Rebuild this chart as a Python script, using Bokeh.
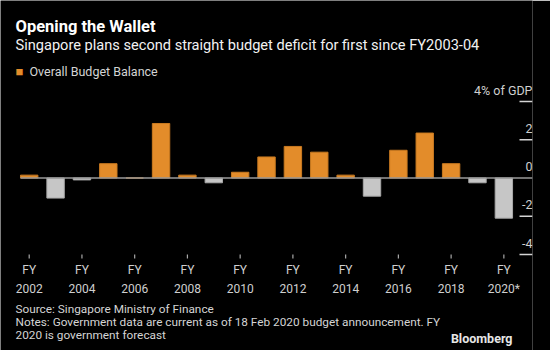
from bokeh.plotting import figure
from bokeh.models import Label, ColumnDataSource, Range1d
from bokeh.embed import file_html
from bokeh.resources import INLINE
from bokeh.core.properties import value

# ---- data ----
years = list(range(2002, 2021))
balance = [0.15, -1.05, -0.1, 0.75, 0.0, 2.85, 0.15, -0.25, 0.3, 1.1,
           1.65, 1.35, 0.15, -0.95, 1.45, 2.35, 0.75, -0.25, -2.1]
x_tick_years = [2002, 2004, 2006, 2008, 2010, 2012, 2014, 2016, 2018, 2020]
x_tick_labels = ["FY\n2002", "FY\n2004", "FY\n2006", "FY\n2008", "FY\n2010",
                 "FY\n2012", "FY\n2014", "FY\n2016", "FY\n2018", "FY\n2020*"]
y_ticks = [-4, -2, 2, 4]
y_label_values = [-4, -2, 0, 2, 4]
y_tick_labels = ["-4", "-2", "0", "2", "4% of GDP"]

title = "Opening the Wallet"
subtitle = "Singapore plans second straight budget deficit for first since FY2003-04"
legend_label = "Overall Budget Balance"
footer = ["Source: Singapore Ministry of Finance",
          "Notes: Government data are current as of 18 Feb 2020 budget announcement. FY",
          "2020 is government forecast"]
brand = "Bloomberg"

# ---- style ----
ORANGE = "#e38c2a"
ORANGE_EDGE = "#c97a20"
GREY = "#c6c6c6"
GREY_EDGE = "#a8a8a8"
BG = "#000000"
FONT = "Roboto"

W, H = 550, 350
FR = 532                 # right edge of the plotting frame (canvas px)
X_REF_PX, X_PPU = 28.7, 26.37     # pixel of first year tick, px per year
Y_ZERO_PX, Y_PPU = 177.5, 19.125  # pixel of zero line, px per unit

x0 = years[0] - X_REF_PX / X_PPU
x1 = years[0] + (FR - X_REF_PX) / X_PPU
y1 = Y_ZERO_PX / Y_PPU
y0 = -(H - Y_ZERO_PX) / Y_PPU


def dx(cx):
    return x0 + cx / X_PPU


def dy(cy):
    return y1 - cy / Y_PPU


p = figure(width=W, height=H, output_backend="svg", toolbar_location=None,
           x_range=Range1d(x0, x1), y_range=Range1d(y0, y1),
           x_axis_type=None, y_axis_type=None,
           min_border_left=0, min_border_right=W - FR,
           min_border_top=0, min_border_bottom=0,
           background_fill_color=BG, border_fill_color=BG)
p.outline_line_color = None
p.grid.visible = False

colors = [ORANGE if v >= 0 else GREY for v in balance]
edges = [ORANGE_EDGE if v >= 0 else GREY_EDGE for v in balance]
src = ColumnDataSource(dict(x=years, top=balance, color=colors, edge=edges))
BAR_W = 0.66
p.vbar(x="x", top="top", bottom=0, width=BAR_W, fill_color="color",
       line_color="edge", line_width=1, source=src)

# zero line
p.hbar(y=[0], left=[years[0] - BAR_W / 2], right=[x1], height=1.5 / Y_PPU,
       fill_color="#9a9a9a", line_color=None)

# y ticks at right edge with labels above them
n_y = len(y_ticks)
p.hbar(y=y_ticks, left=[dx(519)] * n_y, right=[x1] * n_y, height=1.5 / Y_PPU,
       fill_color="#d4d4d4", line_color=None)
p.text(x=[x1] * len(y_label_values), y=[t + 11.5 / Y_PPU for t in y_label_values],
       text=y_tick_labels, text_align="right", text_baseline="middle",
       text_color="#cfcfcf", text_font=value(FONT), text_font_size="12.5px")

# x ticks and labels
n_x = len(x_tick_years)
p.vbar(x=x_tick_years, bottom=[dy(258)] * n_x, top=[dy(254)] * n_x, width=1.2 / X_PPU,
       fill_color="#a8a8a8", line_color=None)
p.text(x=x_tick_years, y=[dy(279)] * n_x, text=x_tick_labels,
       text_align="center", text_baseline="middle", text_color="#cfcfcf",
       text_font=value(FONT), text_font_size="12px", text_line_height=1.33)


def canvas_label(cx, cy, text, size, color, bold=False, align="left"):
    return Label(x=dx(cx), y=dy(cy), text=text, text_align=align, text_baseline="middle",
                 text_color=color, text_font=FONT, text_font_size=size,
                 text_font_style="bold" if bold else "normal")


p.add_layout(canvas_label(15, 26, title, "16.5px", "#ffffff", bold=True))
p.add_layout(canvas_label(15, 44, subtitle, "14.6px", "#f2f2f2"))
p.add_layout(canvas_label(15, 71, "\u25A0", "13px", ORANGE))
p.add_layout(canvas_label(29, 71, legend_label, "12.5px", "#d4d4d4"))
for i, line in enumerate(footer):
    p.add_layout(canvas_label(15, 308 + 13 * i, line, "11.8px", "#d4d4d4"))
p.add_layout(canvas_label(512, 338, brand, "12.5px", "#e6e6e6", bold=True, align="right"))

open("out.html", "w").write(file_html(p, INLINE))
